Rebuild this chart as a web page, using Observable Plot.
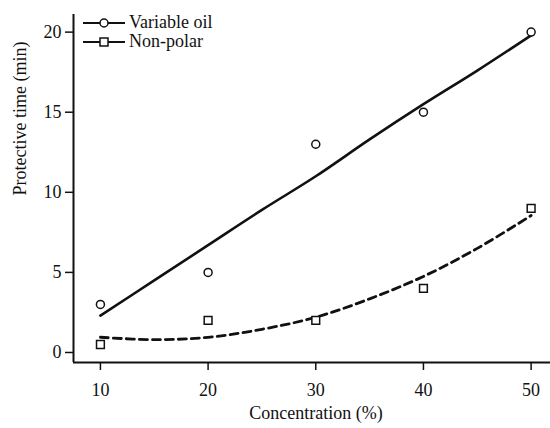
<!DOCTYPE html>
<html><head><meta charset="utf-8">
<script src="https://cdn.jsdelivr.net/npm/d3@7"></script>
<script src="https://cdn.jsdelivr.net/npm/@observablehq/plot@0.6"></script>
<style>
body{margin:0;background:#fff;}
#wrap{position:relative;width:550px;height:428px;font-family:'Liberation Serif','DejaVu Serif',serif;color:#111;}
#wrap svg text{font-family:'Liberation Serif','DejaVu Serif',serif;}
.legend{position:absolute;left:83px;top:13px;font-size:18px;line-height:19px;}
.legend .row{display:flex;align-items:center;height:19px;}
.legend svg{margin-right:4px;display:block;}
</style></head><body><div id="wrap"></div>
<script>
const concentration = [10, 20, 30, 40, 50];
const variableOil = [3, 5, 13, 15, 20];
const nonPolar = [0.5, 2, 2, 4, 9];
const fitConcentration = [10, 15, 20, 25, 30, 35, 40, 45, 50];
const variableOilFit = [2.3, 4.5, 6.7, 8.9, 11.0, 13.3, 15.5, 17.6, 19.8];
const nonPolarFit = [0.95, 0.8, 0.95, 1.45, 2.2, 3.35, 4.75, 6.5, 8.55];
const xTicks = [10, 20, 30, 40, 50];
const yTicks = [0, 5, 10, 15, 20];
const seriesNames = ["Variable oil", "Non-polar"];

const xDomain = [7.5, 51.8];
const yDomain = [-0.625, 21.1];

const pts = (xs, ys) => xs.map((x, i) => ({x, y: ys[i]}));
const oilPts = pts(concentration, variableOil);
const npPts = pts(concentration, nonPolar);
const oilFit = pts(fitConcentration, variableOilFit);
const npFit = pts(fitConcentration, nonPolarFit);

const ink = "#111";
const serif = "'Liberation Serif','DejaVu Serif',serif";
const chart = Plot.plot({
  width: 550, height: 428,
  marginLeft: 73, marginRight: 0, marginTop: 14, marginBottom: 66,
  style: {fontFamily: serif, fontSize: "18px", color: ink, background: "#fff"},
  x: {domain: xDomain, label: null, axis: null},
  y: {domain: yDomain, label: null, axis: null},
  marks: [
    Plot.axisX({ticks: xTicks, tickSize: 8, tickPadding: 13, strokeWidth: 1.5, label: null, fontSize: 18}),
    Plot.axisY({ticks: yTicks, tickSize: 8, tickPadding: 4, strokeWidth: 1.5, label: null, fontSize: 18}),
    Plot.ruleX([xDomain[0]], {stroke: ink, strokeWidth: 2}),
    Plot.ruleY([yDomain[0]], {stroke: ink, strokeWidth: 2}),
    Plot.line(oilFit, {x: "x", y: "y", stroke: ink, strokeWidth: 2.6, curve: "catmull-rom"}),
    Plot.line(npFit, {x: "x", y: "y", stroke: ink, strokeWidth: 2.8, strokeDasharray: "8,5", curve: "catmull-rom"}),
    Plot.dot(oilPts, {x: "x", y: "y", symbol: "circle", r: 4, fill: "#fff", stroke: ink, strokeWidth: 1.5}),
    Plot.dot(npPts, {x: "x", y: "y", symbol: "square", r: 4.4, fill: "#fff", stroke: ink, strokeWidth: 1.5}),
    Plot.text(["Concentration (%)"], {frameAnchor: "bottom", dx: 4, dy: 56, fontSize: 18, fill: ink}),
    Plot.text(["Protective time (min)"], {frameAnchor: "left", rotate: -90, dx: -53, dy: 7, fontSize: 18, fill: ink})
  ]
});

const wrap = document.getElementById("wrap");
wrap.appendChild(chart);

const legend = document.createElement("div");
legend.className = "legend";
const symbols = ["circle", "square"];
seriesNames.forEach((name, i) => {
  const row = document.createElement("div");
  row.className = "row";
  const sym = symbols[i] === "circle"
    ? `<circle cx="21" cy="6" r="4" fill="#fff" stroke="${ink}" stroke-width="1.5"/>`
    : `<rect x="17" y="2" width="8" height="8" fill="#fff" stroke="${ink}" stroke-width="1.5"/>`;
  row.innerHTML = `<svg width="42" height="12"><line x1="0" x2="42" y1="6" y2="6" stroke="${ink}" stroke-width="2"/>${sym}</svg><span>${name}</span>`;
  legend.appendChild(row);
});
wrap.appendChild(legend);
</script>
</body></html>
